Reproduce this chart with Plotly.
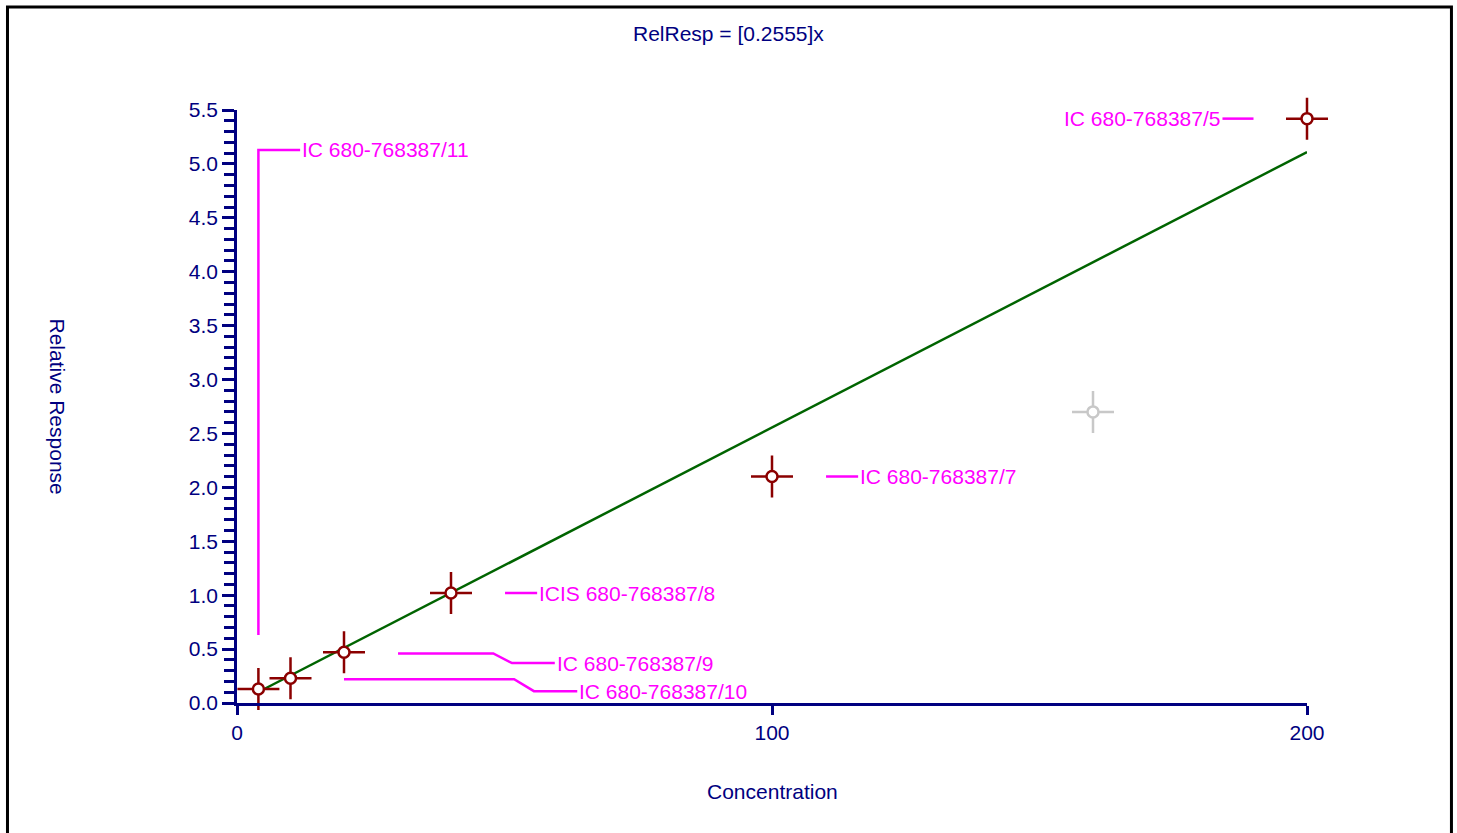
import plotly.graph_objects as go

# calibration points
conc = [4, 10, 20, 40, 100, 200]
resp = [0.13, 0.23, 0.47, 1.02, 2.10, 5.42]
names = ["IC 680-768387/11", "IC 680-768387/10", "IC 680-768387/9",
         "ICIS 680-768387/8", "IC 680-768387/7", "IC 680-768387/5"]

# excluded point (grey)
excl_conc = [160]
excl_resp = [2.70]

# linear fit RelResp = 0.2555x
fit_x = [4, 200]
fit_y = [0.102, 5.11]

y_ticks = [0.0, 0.5, 1.0, 1.5, 2.0, 2.5, 3.0, 3.5, 4.0, 4.5, 5.0, 5.5]
x_ticks = [0, 100, 200]

NAVY = "#000080"
RED = "#8B0000"
GREY = "#C8C8C8"
MAG = "#FF00FF"
FONT = "Liberation Sans, Arial, sans-serif"
FS = 21

fig = go.Figure()

fig.add_trace(go.Scatter(
    x=fit_x, y=fit_y, mode="lines",
    line=dict(color="#006400", width=2.5),
    hoverinfo="skip", showlegend=False,
))


def add_points(xs, ys, color, labels=None):
    # cross (error cross) then open circle on top
    fig.add_trace(go.Scatter(
        x=xs, y=ys, mode="markers", hoverinfo="skip",
        marker=dict(symbol="cross-thin", size=30, color=color,
                    line=dict(color=color, width=2.5)),
        cliponaxis=False, showlegend=False,
    ))
    fig.add_trace(go.Scatter(
        x=xs, y=ys, mode="markers", text=labels,
        marker=dict(symbol="circle", size=11, color="white",
                    line=dict(color=color, width=2.5)),
        cliponaxis=False, showlegend=False,
    ))


add_points(excl_conc, excl_resp, GREY)
add_points(conc, resp, RED, names)

# label leader lines (data coords) and label anchors
leaders = [
    [(4, 0.63), (4, 5.13), (11.8, 5.13)],
    [(20, 0.22), (51.8, 0.22), (55.5, 0.11), (63.6, 0.11)],
    [(30.1, 0.46), (47.9, 0.46), (51.4, 0.37), (59.4, 0.37)],
    [(50.1, 1.02), (56.1, 1.02)],
    [(110.1, 2.10), (116.1, 2.10)],
    [(184.2, 5.42), (190.0, 5.42)],
]
label_pos = [(11.8, 5.13, "left"), (63.6, 0.11, "left"), (59.4, 0.37, "left"),
             (56.1, 1.02, "left"), (116.1, 2.10, "left"), (184.2, 5.42, "right")]

shapes = []
for pts in leaders:
    path = "M " + " L ".join(f"{px},{py}" for px, py in pts)
    shapes.append(dict(type="path", path=path, xref="x", yref="y",
                       line=dict(color=MAG, width=2.5)))

# outer frame
shapes.append(dict(type="rect", xref="paper", yref="paper",
                   x0=-0.2145, x1=1.1350, y0=-0.25, y1=1.1735,
                   line=dict(color="black", width=3)))

annotations = []
for (lx, ly, side), name in zip(label_pos, names):
    annotations.append(dict(x=lx, y=ly, xref="x", yref="y", text=name,
                            showarrow=False, xanchor=side, yanchor="middle",
                            font=dict(color=MAG, size=FS, family=FONT)))

annotations.append(dict(x=(728.5 - 237) / 1070, y=(703 - 33) / 593, xref="paper", yref="paper",
                        text="RelResp = [0.2555]x", showarrow=False,
                        xanchor="center", yanchor="middle",
                        font=dict(color=NAVY, size=FS, family=FONT)))
annotations.append(dict(x=0.5, y=-(791 - 703) / 593, xref="paper", yref="paper",
                        text="Concentration", showarrow=False,
                        xanchor="center", yanchor="middle",
                        font=dict(color=NAVY, size=FS, family=FONT)))
annotations.append(dict(x=(57 - 237) / 1070, y=0.5, xref="paper", yref="paper",
                        text="Relative Response", showarrow=False, textangle=90,
                        xanchor="center", yanchor="middle",
                        font=dict(color=NAVY, size=FS, family=FONT)))

fig.update_layout(
    width=1457, height=833,
    margin=dict(l=237, r=150, t=110, b=130),
    paper_bgcolor="white", plot_bgcolor="white",
    shapes=shapes, annotations=annotations,
    font=dict(family=FONT, color=NAVY, size=FS),
    xaxis=dict(range=[0, 200], tickvals=x_ticks, ticktext=[str(t) for t in x_ticks],
               showgrid=False, zeroline=False, showline=True, linecolor=NAVY,
               linewidth=2.5, ticks="outside", ticklen=9, tickwidth=2.5,
               tickcolor=NAVY, tickfont=dict(color=NAVY, size=FS)),
    yaxis=dict(range=[0, 5.5], tickvals=y_ticks, ticktext=[f"{t:.1f}" for t in y_ticks],
               showgrid=False, zeroline=False, showline=True, linecolor=NAVY,
               linewidth=2.5, ticks="outside", ticklen=12, tickwidth=2.5,
               tickcolor=NAVY, tickfont=dict(color=NAVY, size=FS),
               minor=dict(dtick=0.1, ticks="outside", ticklen=10, tickwidth=2.5,
                          tickcolor=NAVY, showgrid=False)),
)

# remove default page margin so the figure sits at the window origin
fig.write_html("out.html", config={"displayModeBar": False},
               post_script="document.body.style.margin='0';document.body.style.overflow='hidden';")
